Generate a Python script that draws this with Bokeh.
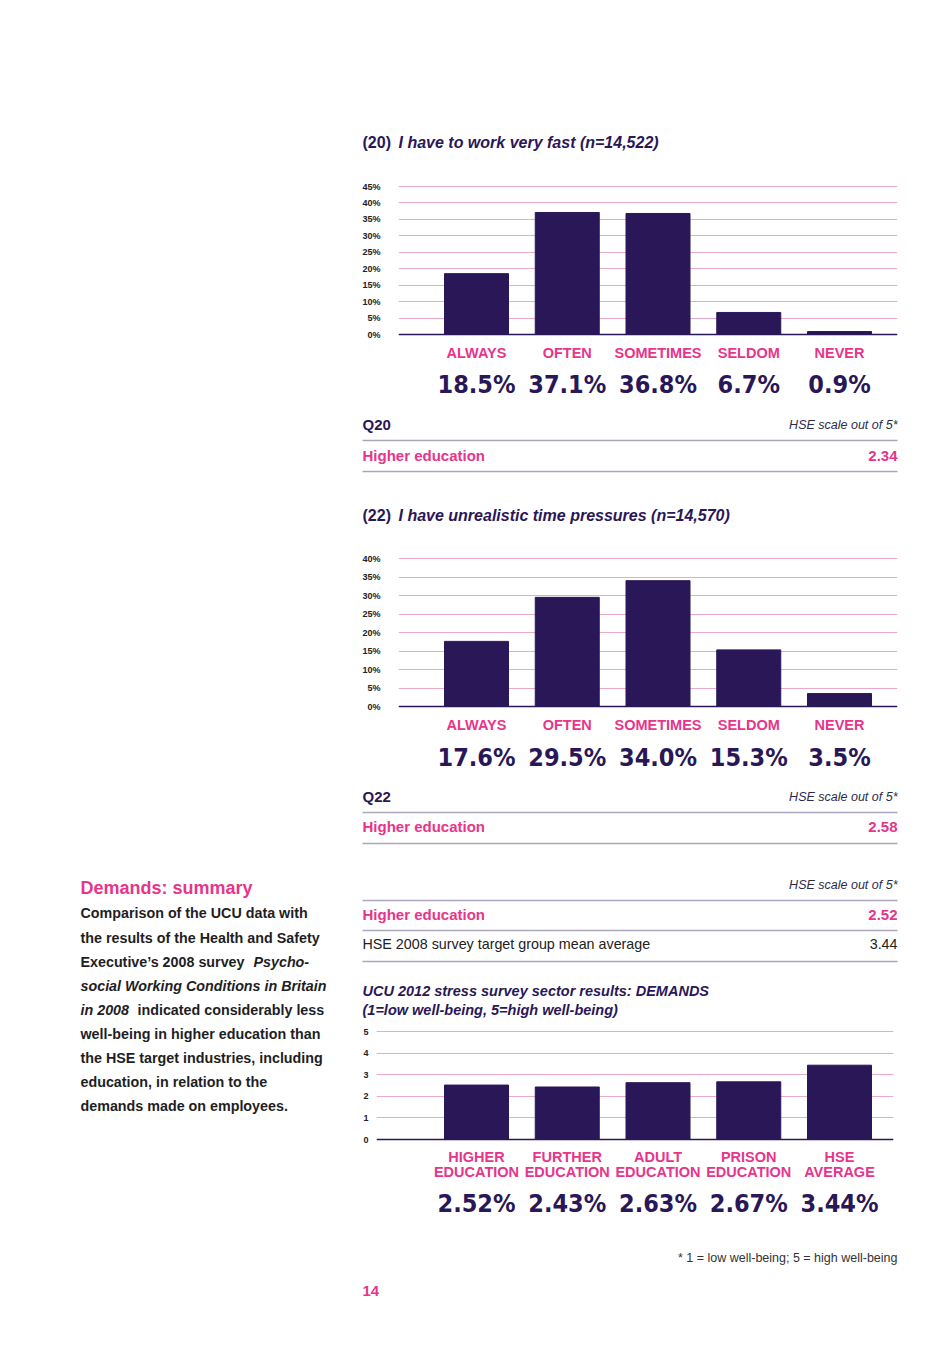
from bokeh.plotting import figure
from bokeh.models import Range1d, FixedTicker, PrintfTickFormatter, Span
from bokeh.layouts import column, row
from bokeh.embed import file_html
from bokeh.resources import INLINE
from bokeh.core.properties import value

# ---------------- data ----------------
q20_title_num = "(20)"
q20_title = "I have to work very fast (n=14,522)"
q20_labels = ["ALWAYS", "OFTEN", "SOMETIMES", "SELDOM", "NEVER"]
q20_values = [18.5, 37.1, 36.8, 6.7, 0.9]
q20_ticks = [0, 5, 10, 15, 20, 25, 30, 35, 40, 45]
q20_he = "2.34"

q22_title_num = "(22)"
q22_title = "I have unrealistic time pressures (n=14,570)"
q22_labels = ["ALWAYS", "OFTEN", "SOMETIMES", "SELDOM", "NEVER"]
q22_values = [17.6, 29.5, 34.0, 15.3, 3.5]
q22_ticks = [0, 5, 10, 15, 20, 25, 30, 35, 40]
q22_he = "2.58"

demands_he = "2.52"
hse_mean = "3.44"
sector_title = ["UCU 2012 stress survey sector results: DEMANDS",
                "(1=low well-being, 5=high well-being)"]
sector_labels = ["HIGHER\nEDUCATION", "FURTHER\nEDUCATION", "ADULT\nEDUCATION",
                 "PRISON\nEDUCATION", "HSE\nAVERAGE"]
sector_values = [2.52, 2.43, 2.63, 2.67, 3.44]
sector_ticks = [0, 1, 2, 3, 4, 5]

# ---------------- style ----------------
NAVY = "#2a1758"
PINK = "#e6358b"
GRIDPINK = "#eaa9c8"
RULE = "#a9a6bd"
FONT = "Liberation Sans"
NARROW = "'DejaVu Sans Condensed', 'Liberation Sans Narrow', 'Liberation Sans', sans-serif"
W = 936


def tfig(width, x0, y0, y1):
    p = figure(width=width, height=y1 - y0, x_range=Range1d(x0, x0 + width),
               y_range=Range1d(y1, y0), output_backend="svg", toolbar_location=None,
               x_axis_location=None, y_axis_location=None, min_border=0)
    p.frame_align = False
    p.grid.visible = False
    p.outline_line_color = None
    p.background_fill_color = "white"
    p.border_fill_color = "white"
    return p


def txt(p, x, y, s, size, color, style="bold", align="left", font=FONT):
    p.text(x=[x], y=[y], text=[s], text_font=value(font), text_font_size=f"{size}px",
           text_font_style=style, text_color=color, text_align=align,
           text_baseline="middle")


def rule(p, y, x0=362, x1=897):
    p.segment(x0=[x0], y0=[y], x1=[x1], y1=[y], line_color=RULE, line_width=1.3)


def chart(width, fx0, fy0, fy1, frame_l, frame_r, zero_y, top_y, top_val, ticks, fmt,
          cats, vals, vfmt, label_off, value_off, standoff):
    ppu = (zero_y - top_y) / top_val
    yr = Range1d(-(fy1 - zero_y) / ppu, (zero_y - fy0) / ppu)
    step, c0 = 90.75, 476.0
    xr = Range1d(-(c0 - frame_l) / step, (frame_r - c0) / step)
    p = figure(width=width, height=fy1 - fy0, x_range=xr, y_range=yr,
               output_backend="svg", toolbar_location=None, x_axis_location=None,
               min_border_left=int(frame_l - fx0), min_border_right=int(fx0 + width - frame_r),
               min_border_top=0, min_border_bottom=0)
    p.frame_align = False
    p.outline_line_color = None
    p.xgrid.visible = False
    tk = FixedTicker(ticks=ticks)
    p.yaxis.ticker = tk
    p.ygrid.ticker = tk
    p.yaxis.formatter = PrintfTickFormatter(format=fmt)
    p.yaxis.axis_line_color = None
    p.yaxis.major_tick_line_color = None
    p.yaxis.minor_tick_line_color = None
    p.yaxis.major_tick_out = 0
    p.yaxis.major_tick_in = 0
    p.yaxis.major_label_standoff = standoff
    p.yaxis.major_label_text_font = FONT
    p.yaxis.major_label_text_font_style = "bold"
    p.yaxis.major_label_text_font_size = "9px"
    p.yaxis.major_label_text_color = "#222222"
    p.ygrid.grid_line_color = GRIDPINK
    p.ygrid.grid_line_width = 1.2
    idx = list(range(len(vals)))
    p.vbar(x=idx, top=vals, bottom=0, width=64 / step, color=NAVY)
    p.add_layout(Span(location=0, dimension="width", line_color=NAVY, line_width=1.5))
    p.text(x=idx, y=[0] * len(vals), text=cats, y_offset=label_off,
           text_font=value(FONT), text_font_size="14.5px", text_font_style="bold",
           text_color=PINK, text_align="center", text_baseline="middle",
           text_line_height=0.92)
    p.text(x=idx, y=[0] * len(vals), text=[vfmt.format(v) for v in vals],
           y_offset=value_off, text_font=value(NARROW), text_font_size="25px",
           text_font_style="bold", text_color=NAVY, text_align="center",
           text_baseline="middle")
    return p


# ---------------- sections ----------------
fA = tfig(W, 0, 0, 176)
txt(fA, 362, 142, q20_title_num, 16, NAVY)
txt(fA, 398, 142, q20_title, 16, NAVY, "bold italic")

fB = chart(W, 0, 176, 405, 398, 897, 334, 186, 45, q20_ticks, "%d%%",
           q20_labels, q20_values, "{:.1f}%", 18, 50, 18)

fC = tfig(W, 0, 405, 545)
txt(fC, 362, 424, "Q20", 15, NAVY)
txt(fC, 897, 424, "HSE scale out of 5*", 12.5, "#2d2a4a", "italic", "right")
rule(fC, 440)
txt(fC, 362, 455, "Higher education", 15, PINK)
txt(fC, 897, 455, q20_he, 15, PINK, "bold", "right")
rule(fC, 471)
txt(fC, 362, 515, q22_title_num, 16, NAVY)
txt(fC, 398, 515, q22_title, 16, NAVY, "bold italic")

fD = chart(W, 0, 545, 775, 398, 897, 706, 558, 40, q22_ticks, "%d%%",
           q22_labels, q22_values, "{:.1f}%", 18, 51, 18)

fE = tfig(W, 0, 775, 865)
txt(fE, 362, 796, "Q22", 15, NAVY)
txt(fE, 897, 796, "HSE scale out of 5*", 12.5, "#2d2a4a", "italic", "right")
rule(fE, 812)
txt(fE, 362, 826, "Higher education", 15, PINK)
txt(fE, 897, 826, q22_he, 15, PINK, "bold", "right")
rule(fE, 843)

# left text column
LW = 348
fL = tfig(LW, 0, 865, 1225)
txt(fL, 80, 887, "Demands: summary", 18, PINK)
BODY = "#1e1e24"
body = [
    (912, [(80, "Comparison of the UCU data with", "bold")]),
    (937, [(80, "the results of the Health and Safety", "bold")]),
    (961, [(80, "Executive’s 2008 survey", "bold"), (253, "Psycho-", "bold italic")]),
    (985, [(80, "social Working Conditions in Britain", "bold italic")]),
    (1009, [(80, "in 2008", "bold italic"), (137, "indicated considerably less", "bold")]),
    (1033, [(80, "well-being in higher education than", "bold")]),
    (1057, [(80, "the HSE target industries, including", "bold")]),
    (1081, [(80, "education, in relation to the", "bold")]),
    (1105, [(80, "demands made on employees.", "bold")]),
]
for y, parts in body:
    for x, s, st in parts:
        txt(fL, x, y, s, 14.3, BODY, st)

fR1 = tfig(W - LW, LW, 865, 1022)
txt(fR1, 897, 884, "HSE scale out of 5*", 12.5, "#2d2a4a", "italic", "right")
rule(fR1, 900)
txt(fR1, 362, 914, "Higher education", 15, PINK)
txt(fR1, 897, 914, demands_he, 15, PINK, "bold", "right")
rule(fR1, 930)
txt(fR1, 362, 943, "HSE 2008 survey target group mean average", 14.3, "#222222", "normal")
txt(fR1, 897, 943, hse_mean, 14.3, "#222222", "normal", "right")
rule(fR1, 961)
txt(fR1, 362, 990, sector_title[0], 14.5, NAVY, "bold italic")
txt(fR1, 362, 1009, sector_title[1], 14.5, NAVY, "bold italic")

fR2 = chart(W - LW, LW, 1022, 1225, 376, 893, 1139, 1031, 5, sector_ticks, "%d",
            sector_labels, sector_values, "{:.2f}%", 25, 64, 8)

fG = tfig(W, 0, 1225, 1339)
txt(fG, 897, 1257, "* 1 = low well-being; 5 = high well-being", 12.5, "#333333", "normal", "right")
txt(fG, 362, 1290, "14", 15, PINK)

layout = column(fA, fB, fC, fD, fE, row(fL, column(fR1, fR2, spacing=0), spacing=0), fG,
                spacing=0)

open("out.html", "w").write(file_html(layout, INLINE))
